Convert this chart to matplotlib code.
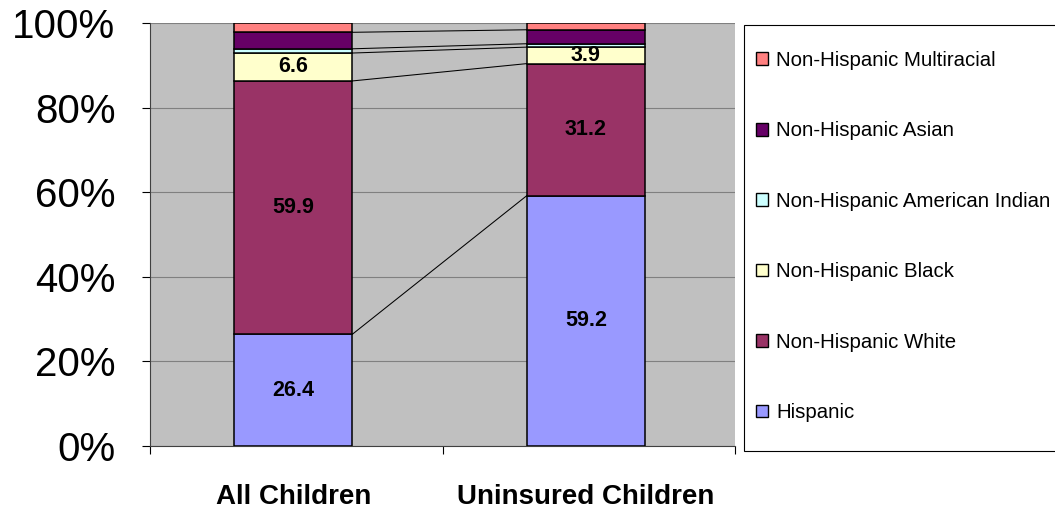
import matplotlib
matplotlib.use("Agg")
import matplotlib.pyplot as plt
from matplotlib.patches import Patch, Rectangle
import numpy as np

plt.rcParams['font.family'] = ['Liberation Sans', 'DejaVu Sans']

groups = ['All Children', 'Uninsured Children']
series = ['Hispanic', 'Non-Hispanic White', 'Non-Hispanic Black',
          'Non-Hispanic American Indian', 'Non-Hispanic Asian', 'Non-Hispanic Multiracial']
hispanic = [26.4, 59.2]
nh_white = [59.9, 31.2]
nh_black = [6.6, 3.9]
nh_amind = [1.0, 0.8]
nh_asian = [3.9, 3.3]
nh_multi = [2.2, 1.6]
labelled = ['Hispanic', 'Non-Hispanic White', 'Non-Hispanic Black']
colors = ['#9999FF', '#993366', '#FFFFCC', '#CCFFFF', '#660066', '#FF8080']

values = [hispanic, nh_white, nh_black, nh_amind, nh_asian, nh_multi]

W, H = 1055, 508
fig = plt.figure(figsize=(W/100, H/100), dpi=100)
ax = fig.add_axes([150/W, 1-446/H, 585/W, 423/H])
ax.set_facecolor('#C0C0C0')

x = np.arange(len(groups))
width = 0.403
bottom = np.zeros(len(groups))
tops = []
for name, vals, col in zip(series, values, colors):
    vals = np.array(vals, dtype=float)
    ax.bar(x, vals, width, bottom=bottom, color=col, edgecolor='black',
           linewidth=1.1, zorder=3)
    if name in labelled:
        for xi, b, v in zip(x, bottom, vals):
            ax.text(xi, b + v / 2, f"{v:.1f}", ha='center', va='center',
                    fontsize=15.5, fontweight='bold', zorder=4)
    bottom = bottom + vals
    tops.append(bottom.copy())

# series lines between the two bars
for t in tops[:-1]:
    ax.plot([x[0] + width/2, x[1] - width/2], [t[0], t[1]], color='black',
            linewidth=0.75, zorder=2)

x0, x1 = -0.49, 1.51
ax.set_xlim(x0, x1)
ax.set_ylim(0, 100)
ax.set_yticks(np.arange(0, 101, 20))
ax.set_yticklabels([f"{v}%" for v in range(0, 101, 20)], fontsize=29)
ax.tick_params(axis='y', direction='out', length=6, width=0.8, pad=19)
ax.set_xticks([x0, (x0 + x1) / 2, x1])
ax.set_xticklabels([])
ax.tick_params(axis='x', which='major', direction='out', length=6, width=0.8)
ax.set_xticks(x, minor=True)
ax.set_xticklabels(groups, minor=True, fontsize=20, fontweight='bold')
ax.tick_params(axis='x', which='minor', length=0, pad=27)

ax.yaxis.grid(True, color='#808080', linewidth=0.8)
ax.set_axisbelow(True)
for s in ['top', 'right']:
    ax.spines[s].set_visible(False)
for s in ['left', 'bottom']:
    ax.spines[s].set_color('#404040')
    ax.spines[s].set_linewidth(0.8)

# legend box (frame drawn separately, it runs past the right edge)
fig.patches.append(Rectangle((744/W, 1-451/H), 330/W, 426/H, transform=fig.transFigure,
                             facecolor='white', edgecolor='black', linewidth=0.8, zorder=0))
handles = [Patch(facecolor=c, edgecolor='black', linewidth=1.0, label=n)
           for n, c in zip(series, colors)][::-1]
leg = fig.legend(handles=handles, loc='upper left',
                 bbox_to_anchor=(756/W, 1-51/H), fontsize=14.7,
                 frameon=False, handlelength=0.58, handleheight=0.58,
                 handletextpad=0.4, labelspacing=2.52, borderpad=0,
                 borderaxespad=0)

fig.savefig('out.png', dpi=100)
